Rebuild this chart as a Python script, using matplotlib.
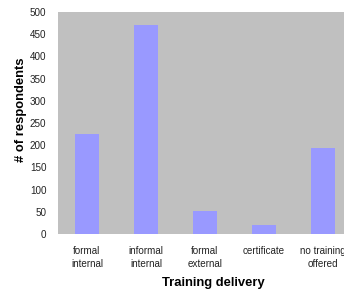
import matplotlib
matplotlib.use("Agg")
import matplotlib.pyplot as plt

plt.rcParams['font.family'] = ['Liberation Sans', 'DejaVu Sans']

categories = ["formal\ninternal", "informal\ninternal", "formal\nexternal",
              "certificate", "no training\noffered"]
respondents = [225, 471, 52, 20, 194]

fig = plt.figure(figsize=(3.44, 2.92), dpi=100)
# plot area runs past the right edge of the image, as in the original
ax = fig.add_axes([57.5 / 344, 1 - 234 / 292, 295 / 344, 222 / 292])
ax.set_facecolor('#C0C0C0')

x = range(len(categories))
ax.bar(x, respondents, width=0.41, color='#9999FF', zorder=2)

ax.set_xlim(-0.5, len(categories) - 0.5)
ax.set_ylim(0, 500)
ax.set_yticks(range(0, 501, 50))
ax.set_xticks(list(x))
ax.set_xticklabels(categories, fontsize=7.1, linespacing=1.35)
ax.tick_params(axis='y', labelsize=7.1, length=0, pad=8, labelcolor='#222222')
ax.tick_params(axis='x', length=0, pad=9, labelcolor='#222222')
for s in ax.spines.values():
    s.set_visible(False)

ax.set_ylabel("# of respondents", fontsize=9.4, fontweight='bold')
ax.yaxis.set_label_coords(-36 / 295, (234 - 110) / 222)
ax.set_xlabel("Training delivery", fontsize=9.4, fontweight='bold')
ax.xaxis.set_label_coords((213.5 - 57.5) / 295, -(283 - 234) / 222)
ax.xaxis.label.set_va('center')
ax.yaxis.label.set_va('center')

fig.savefig("out.png", dpi=100)
